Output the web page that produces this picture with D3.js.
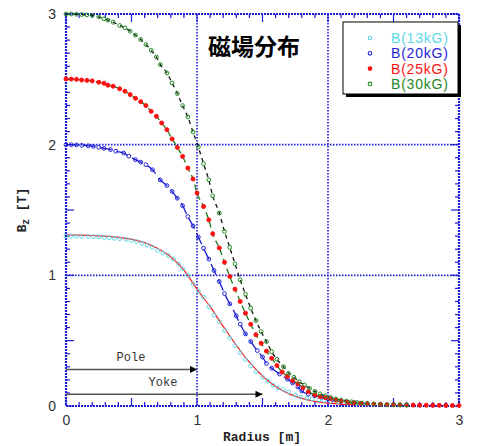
<!DOCTYPE html>
<html><head><meta charset="utf-8">
<script src="https://cdn.jsdelivr.net/npm/d3@7"></script>
<style>body{margin:0;background:#fff}svg{display:block}</style>
</head><body><svg id="c" width="477" height="446"></svg>
<script>
// ---- data ----
const seriesNames = ["B(13kG)", "B(20kG)", "B(25kG)", "B(30kG)"];
const xTicks = [0, 1, 2, 3];
const yTicks = [0, 1, 2, 3];
const b13 = [[0,1.300],[0.04,1.300],[0.08,1.299],[0.12,1.298],[0.17,1.297],[0.21,1.296],[0.25,1.294],[0.29,1.290],[0.33,1.286],[0.37,1.283],[0.41,1.280],[0.46,1.275],[0.50,1.267],[0.54,1.258],[0.58,1.245],[0.62,1.232],[0.66,1.215],[0.70,1.190],[0.74,1.170],[0.78,1.152],[0.82,1.125],[0.86,1.085],[0.89,1.050],[0.93,1.000],[0.97,0.935],[1.01,0.880],[1.05,0.833],[1.09,0.760],[1.13,0.697],[1.17,0.646],[1.21,0.577],[1.25,0.519],[1.29,0.462],[1.33,0.408],[1.37,0.355],[1.41,0.306],[1.45,0.262],[1.50,0.220],[1.54,0.190],[1.58,0.160],[1.62,0.140],[1.66,0.125],[1.70,0.108],[1.75,0.085],[1.79,0.068],[1.84,0.060],[1.88,0.054],[1.93,0.048],[1.97,0.042],[2.02,0.036],[2.08,0.030],[2.15,0.024],[2.22,0.019],[2.30,0.015]];
const fit13 = [[0,1.310],[0.2,1.305],[0.4,1.290],[0.6,1.250],[0.7,1.205],[0.8,1.140],[0.9,1.040],[1.0,0.895],[1.1,0.760],[1.2,0.610],[1.3,0.465],[1.4,0.335],[1.5,0.230],[1.6,0.150],[1.7,0.095],[1.8,0.058],[1.9,0.035],[2.0,0.022],[2.1,0.014],[2.2,0.010]];
const b20 = [[0,2.000],[0.04,2.000],[0.08,1.998],[0.12,1.995],[0.17,1.991],[0.21,1.987],[0.25,1.980],[0.29,1.972],[0.34,1.962],[0.38,1.950],[0.44,1.936],[0.48,1.912],[0.53,1.885],[0.57,1.866],[0.61,1.847],[0.66,1.808],[0.72,1.730],[0.77,1.687],[0.81,1.642],[0.85,1.590],[0.89,1.533],[0.93,1.450],[0.97,1.378],[1.01,1.293],[1.05,1.208],[1.09,1.124],[1.13,1.037],[1.17,0.953],[1.21,0.860],[1.25,0.782],[1.30,0.690],[1.33,0.626],[1.37,0.552],[1.41,0.493],[1.46,0.424],[1.50,0.375],[1.53,0.325],[1.57,0.289],[1.63,0.245],[1.69,0.205],[1.73,0.175],[1.77,0.145],[1.80,0.115],[1.85,0.090],[1.90,0.078],[1.95,0.068],[2.00,0.055],[2.04,0.046],[2.10,0.036],[2.15,0.029],[2.20,0.024],[2.25,0.020],[2.30,0.017],[2.40,0.013],[2.50,0.010],[2.60,0.008],[2.70,0.007],[2.80,0.006],[2.90,0.005]];
const b25 = [[0,2.503],[0.04,2.502],[0.08,2.500],[0.12,2.495],[0.16,2.492],[0.20,2.488],[0.25,2.478],[0.29,2.470],[0.32,2.455],[0.36,2.447],[0.41,2.427],[0.45,2.409],[0.49,2.383],[0.53,2.355],[0.57,2.329],[0.61,2.299],[0.65,2.255],[0.69,2.217],[0.73,2.166],[0.77,2.115],[0.81,2.044],[0.85,1.979],[0.89,1.910],[0.93,1.821],[0.97,1.737],[1.00,1.630],[1.05,1.527],[1.09,1.425],[1.12,1.318],[1.17,1.210],[1.21,1.100],[1.25,0.991],[1.29,0.894],[1.33,0.800],[1.37,0.710],[1.41,0.626],[1.45,0.545],[1.49,0.480],[1.53,0.420],[1.57,0.365],[1.61,0.310],[1.65,0.260],[1.69,0.225],[1.73,0.195],[1.77,0.170],[1.81,0.140],[1.85,0.110],[1.90,0.084],[1.94,0.072],[1.98,0.064],[2.02,0.056],[2.06,0.045],[2.10,0.038],[2.15,0.030],[2.20,0.025],[2.25,0.020],[2.30,0.017],[2.35,0.015],[2.40,0.013],[2.45,0.011],[2.50,0.010],[2.55,0.009],[2.60,0.008],[2.65,0.007],[2.70,0.006],[2.75,0.006],[2.80,0.005],[2.85,0.005],[2.90,0.004],[2.95,0.004],[3.00,0.004]];
const b30 = [[0,3.000],[0.04,3.000],[0.08,2.998],[0.12,2.996],[0.16,2.993],[0.20,2.989],[0.25,2.978],[0.29,2.963],[0.32,2.953],[0.36,2.937],[0.41,2.912],[0.45,2.894],[0.49,2.868],[0.53,2.838],[0.57,2.805],[0.61,2.766],[0.65,2.722],[0.69,2.671],[0.72,2.613],[0.77,2.549],[0.81,2.472],[0.85,2.391],[0.89,2.299],[0.93,2.212],[0.97,2.097],[1.01,1.982],[1.05,1.854],[1.09,1.731],[1.12,1.609],[1.17,1.477],[1.21,1.336],[1.25,1.214],[1.29,1.088],[1.33,0.966],[1.37,0.855],[1.41,0.749],[1.45,0.654],[1.49,0.569],[1.53,0.493],[1.57,0.416],[1.61,0.358],[1.66,0.301],[1.70,0.250],[1.74,0.220],[1.78,0.186],[1.82,0.161],[1.86,0.135],[1.90,0.112],[1.94,0.093],[1.98,0.078],[2.02,0.065],[2.06,0.054],[2.10,0.045],[2.14,0.038],[2.18,0.032],[2.22,0.027],[2.26,0.022],[2.30,0.018],[2.35,0.015],[2.40,0.012],[2.45,0.010],[2.50,0.009],[2.55,0.008],[2.60,0.007]];
const arrowLabels = ["Pole", "Yoke"];
const arrowEnds = [1.0, 1.5];

// ---- layout ----
const svg = d3.select("#c");
const L = 66, R = 459, T = 14, B = 406;
const x = d3.scaleLinear().domain([0, 3]).range([L, R]);
const y = d3.scaleLinear().domain([0, 3]).range([B, T]);
const BLUE = "#1c1cd4";

// grid lines
const grid = svg.append("g");
[1, 2].forEach(v => {
  grid.append("line").attr("x1", x(v)).attr("x2", x(v)).attr("y1", T).attr("y2", B)
    .attr("stroke", BLUE).attr("stroke-width", 1.6).attr("stroke-dasharray", "1.5,1.5");
  grid.append("line").attr("x1", L).attr("x2", R).attr("y1", y(v)).attr("y2", y(v))
    .attr("stroke", BLUE).attr("stroke-width", 1.6).attr("stroke-dasharray", "1.5,1.5");
});

// axes with inward ticks (minor 0.1, major 0.5)
const minor = d3.range(0, 3.001, 0.1).map(v => +v.toFixed(2));
function tickLen(v){ return Math.abs(v*2 - Math.round(v*2)) < 1e-6 ? 8 : 4; }
const tg = svg.append("g").attr("stroke", BLUE).attr("stroke-width", 1.2);
minor.forEach(v => {
  const l = tickLen(v);
  tg.append("line").attr("x1", x(v)).attr("x2", x(v)).attr("y1", B).attr("y2", B - l);
  tg.append("line").attr("x1", x(v)).attr("x2", x(v)).attr("y1", T).attr("y2", T + l);
  tg.append("line").attr("y1", y(v)).attr("y2", y(v)).attr("x1", L).attr("x2", L + l);
  tg.append("line").attr("y1", y(v)).attr("y2", y(v)).attr("x1", R).attr("x2", R - l);
});
svg.append("rect").attr("x", L).attr("y", T).attr("width", R - L).attr("height", B - T)
  .attr("fill", "none").attr("stroke", BLUE).attr("stroke-width", 2.2).attr("stroke-dasharray", "2,1");

// tick labels via d3 axes (lines hidden)
const xAxis = svg.append("g").attr("transform", `translate(0,${B})`)
  .call(d3.axisBottom(x).tickValues(xTicks).tickSize(0).tickPadding(9).tickFormat(d3.format("d")));
const yAxis = svg.append("g").attr("transform", `translate(${L},0)`)
  .call(d3.axisLeft(y).tickValues(yTicks).tickSize(0).tickPadding(10).tickFormat(d3.format("d")));
[xAxis, yAxis].forEach(a => {
  a.select(".domain").remove();
  a.selectAll("text").attr("font-family", "Liberation Sans, Arial, sans-serif").attr("font-size", 14).attr("fill", "#333");
});

// axis titles
svg.append("text").attr("x", 262).attr("y", 441).attr("text-anchor", "middle")
  .attr("font-family", "Liberation Mono, Courier New, monospace").attr("font-weight", "bold").attr("font-size", 13)
  .attr("fill", "#222").text("Radius [m]");
const yt = svg.append("text").attr("transform", "translate(26,210) rotate(-90)").attr("text-anchor", "middle")
  .attr("font-family", "Liberation Mono, Courier New, monospace").attr("font-weight", "bold").attr("font-size", 13).attr("fill", "#222");
yt.append("tspan").text("B");
yt.append("tspan").attr("font-size", 9).attr("dy", 3).text("Z");
yt.append("tspan").attr("dy", -3).text(" [T]");

// curves
const line = d3.line().x(d => x(d[0])).y(d => y(d[1])).curve(d3.curveMonotoneX);
const lines = [
  {data: fit13, color: "#ff1a1a", dash: null, w: 1.2},
  {data: b20, color: "#1c1cd4", dash: "12,5", w: 1.3},
  {data: b25, color: "#1a7a1a", dash: "6,4", w: 1.3},
  {data: b30, color: "#111", dash: "4,4", w: 1.3}
];
lines.forEach(s => {
  svg.append("path").datum(s.data.filter(d => d[0] <= 2.3)).attr("d", line).attr("fill", "none")
    .attr("stroke", s.color).attr("stroke-width", s.w).attr("stroke-dasharray", s.dash);
});

// markers
const markers = [
  {data: b13, color: "#5ad8e6", filled: false},
  {data: b20, color: "#2323d8", filled: false},
  {data: b25, color: "#ff1010", filled: true},
  {data: b30, color: "#1e8a1e", filled: false}
];
markers.forEach(s => {
  svg.append("g").selectAll("circle").data(s.data).join("circle")
    .attr("cx", d => x(d[0])).attr("cy", d => y(d[1])).attr("r", s.filled ? 2.0 : 1.9)
    .attr("fill", s.filled ? s.color : "none").attr("stroke", s.color).attr("stroke-width", 1);
});

// arrows
const defs = svg.append("defs");
defs.append("marker").attr("id", "ah").attr("viewBox", "0 0 10 10").attr("refX", 10).attr("refY", 5)
  .attr("markerWidth", 10).attr("markerHeight", 7).attr("markerUnits", "userSpaceOnUse").attr("orient", "auto")
  .append("path").attr("d", "M0,0L10,5L0,10Z").attr("fill", "#000");
const arrowY = [y(0.28), y(0.09)];
arrowLabels.forEach((lab, i) => {
  svg.append("line").attr("x1", x(0)).attr("x2", x(arrowEnds[i])).attr("y1", arrowY[i]).attr("y2", arrowY[i])
    .attr("stroke", "#555").attr("stroke-width", 1.5).attr("marker-end", "url(#ah)");
  svg.append("text").attr("x", i === 0 ? 131 : 163).attr("y", arrowY[i] - 8).attr("text-anchor", "middle")
    .attr("font-family", "Liberation Mono, Courier New, monospace").attr("font-size", 12).attr("fill", "#333").text(lab);
});

// title
svg.append("text").attr("x", 254).attr("y", 55).attr("text-anchor", "middle")
  .attr("font-family", "Noto Sans CJK JP, Noto Sans CJK SC, sans-serif").attr("font-weight", "bold").attr("font-size", 23)
  .attr("fill", "#000").text("磁場分布");

// legend
const lg = svg.append("g");
lg.append("rect").attr("x", 346).attr("y", 25).attr("width", 115).attr("height", 72).attr("fill", "#000");
lg.append("rect").attr("x", 343).attr("y", 22).attr("width", 115).attr("height", 72).attr("fill", "#fff").attr("stroke", "#000").attr("stroke-width", 1);
markers.forEach((s, i) => {
  const yy = 38 + i * 15.3;
  lg.append("circle").attr("cx", 370).attr("cy", yy).attr("r", 1.8)
    .attr("fill", s.filled ? s.color : "none").attr("stroke", s.color).attr("stroke-width", 1.1);
  lg.append("text").attr("x", 391).attr("y", yy + 5).attr("font-family", "Liberation Sans, Arial, sans-serif")
    .attr("font-size", 14).attr("letter-spacing", 0.8).attr("fill", s.color).text(seriesNames[i]);
});
</script></body></html>
